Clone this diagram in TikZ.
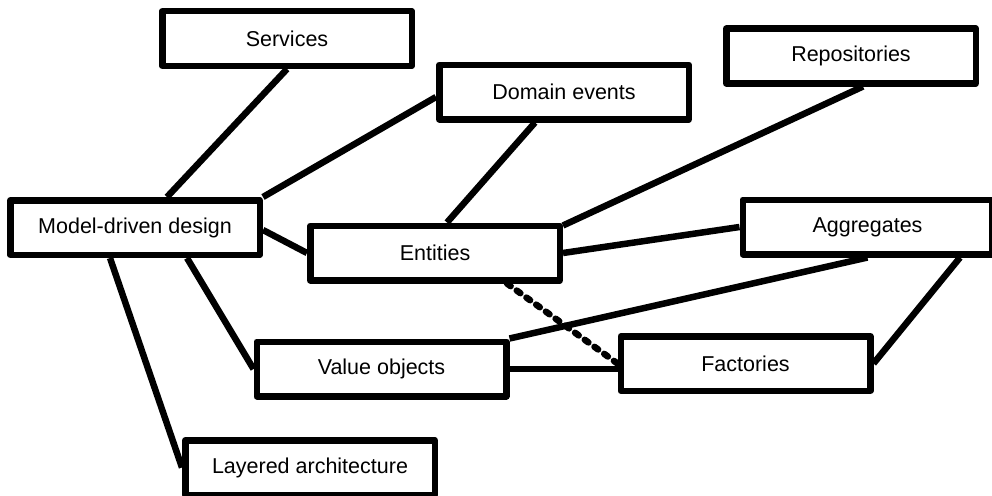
\documentclass[tikz,border=0pt]{standalone}
\usepackage{fontspec}
\setmainfont{Liberation Sans}
\usetikzlibrary{calc}
\begin{document}
\begin{tikzpicture}[x=1pt,y=-1pt,
  conceptbox/.style={draw=black, fill=white, line width=6.5pt, line join=round,
    minimum width=249.5pt, minimum height=54.5pt, inner sep=0pt,
    font=\fontsize{21.5}{25}\selectfont},
  link/.style={draw=black, line width=6.5pt},
  dashlink/.style={draw=black, line width=6.5pt, line cap=round, dash pattern=on 4.5pt off 7.5pt}]
\useasboundingbox (0,0) rectangle (992,495);
\node[conceptbox] (services) at (287,38.5) {Services};
\node[conceptbox] (domain) at (564,92) {Domain events};
\node[conceptbox] (repos) at (851,56) {Repositories};
\node[conceptbox] (model) at (135,227.5) {Model-driven design};
\node[conceptbox] (entities) at (435,253) {Entities};
\node[conceptbox] (aggr) at (867.5,227) {Aggregates};
\node[conceptbox] (vo) at (381.5,369) {Value objects};
\node[conceptbox] (fact) at (745.5,363.5) {Factories};
\node[conceptbox] (layered) at (310,467.5) {Layered architecture};

\draw[link] (services.south) -- ([xshift=32pt]model.north);
\draw[link] ([yshift=-5pt]domain.west) -- (model.north east);
\draw[link] ([xshift=-29pt]domain.south) -- ([xshift=12pt]entities.north);
\draw[link] ([yshift=-2.5pt]model.east) -- (entities.west);
\draw[link] ([xshift=12pt]repos.south) -- ([yshift=-3pt]entities.north east);
\draw[link] (entities.east) -- (aggr.west);
\draw[link] (aggr.south) -- (vo.north east);
\draw[link] ([xshift=92.5pt]aggr.south) -- (fact.east);
\draw[link] (vo.east) -- (vo.east -| fact.west);
\draw[dashlink] ([xshift=72pt]entities.south) -- (fact.west);
\draw[link] ([xshift=-25pt]model.south) -- (layered.west);
\draw[link] ([xshift=52pt]model.south) -- (vo.west);
\end{tikzpicture}
\end{document}
